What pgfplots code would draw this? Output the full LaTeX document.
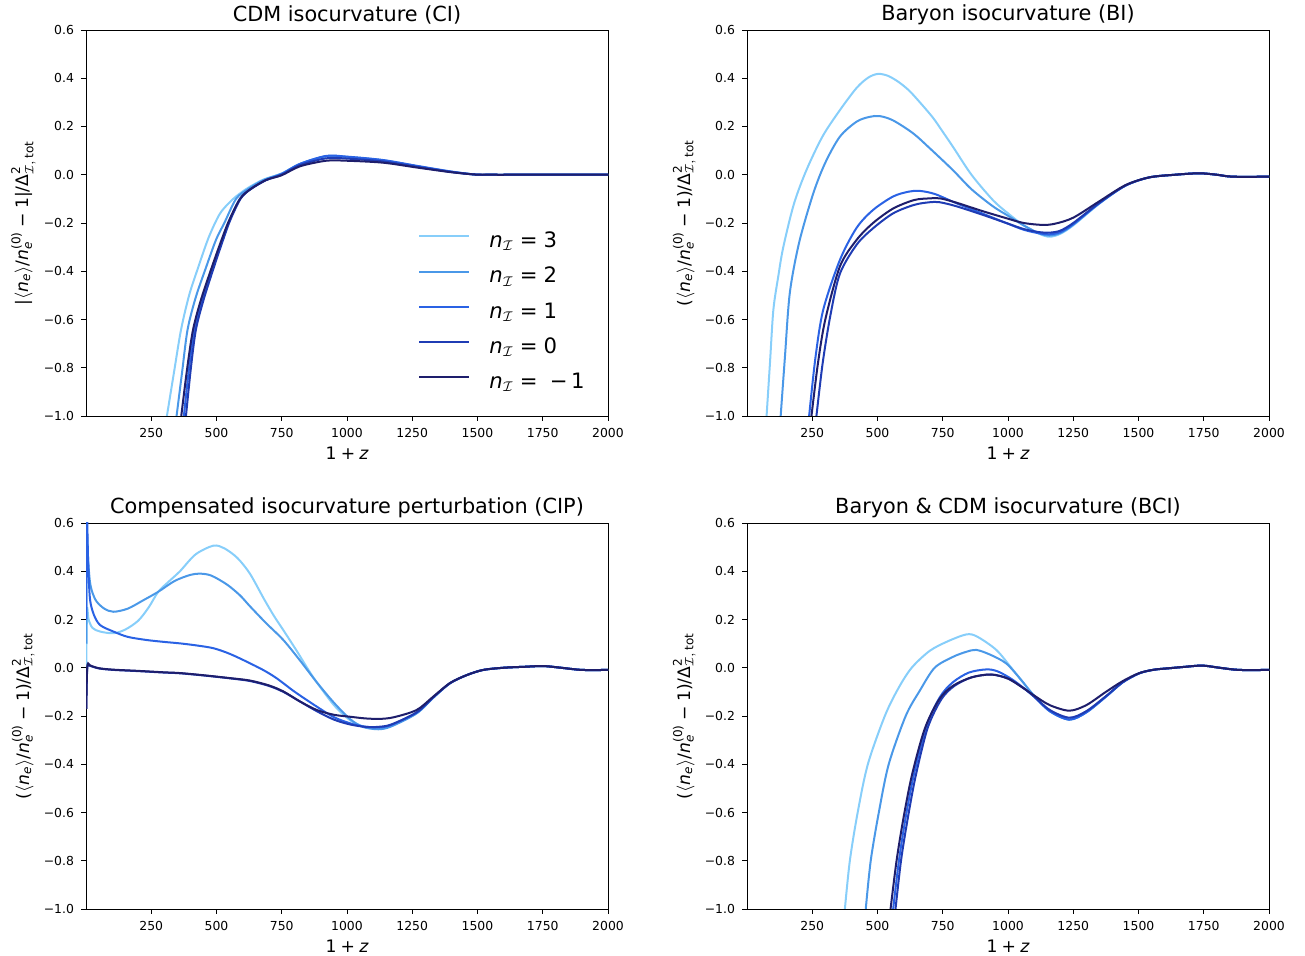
\documentclass[border=0pt]{standalone}
\usepackage{amsmath}
\usepackage{fontspec}
\setmainfont{DejaVu Sans}
\usepackage{pgfplots}
\pgfplotsset{compat=1.18}
\newcommand{\T}[1]{\text{#1}}
\definecolor{cA}{HTML}{87CEFA}
\definecolor{cB}{HTML}{4A98E8}
\definecolor{cC}{HTML}{2A62E4}
\definecolor{cD}{HTML}{1F3CB4}
\definecolor{cE}{HTML}{1E1E6C}
\pgfplotsset{
  panel/.style={
    width=261pt, height=193pt, scale only axis, anchor=south west,
    xmin=0, xmax=2000, ymin=-1, ymax=0.6,
    xtick={250,500,750,1000,1250,1500,1750,2000},
    xticklabels={250,500,750,1000,1250,1500,1750,2000},
    ytick={-1,-0.8,-0.6,-0.4,-0.2,0,0.2,0.4,0.6},
    yticklabels={−1.0,−0.8,−0.6,−0.4,−0.2,0.0,0.2,0.4,0.6},
    tick align=outside, tick pos=left, major tick length=2.5pt,
    tick style={line width=0.45pt, black},
    axis line style={line width=0.45pt},
    ticklabel style={font=\fontsize{6.2}{7}\selectfont},
    every axis title/.style={at={(axis description cs:0.5,1.0389)}, anchor=center, font=\fontsize{10.4}{12}\selectfont},
    every axis x label/.style={at={(axis description cs:0.5,-0.0959)}, anchor=center, font=\fontsize{8.6}{10}\selectfont},
    every axis y label/.style={at={(axis description cs:-0.12,0.5)}, rotate=90, anchor=center, font=\fontsize{8.6}{10}\selectfont},
    xlabel={$\T{1}\mathbin{\T{+}}\mathit{z}$},
    ylabel={$\T{(}\langle \mathit{n}_{\mathit{e}}\rangle\T{/}\mathit{n}_{\mathit{e}}^{\T{(0)}}\mathbin{\T{−}}\T{1)/Δ}^{\T{2}}_{\mathcal{I},\,\T{tot}}$},
    every axis plot/.append style={line width=1pt, smooth, tension=0.5},
  }
}
\begin{document}
\begin{tikzpicture}
\useasboundingbox (0,0) rectangle (652.5pt,478pt);
% ---------------- CI ----------------
\begin{axis}[panel, at={(43pt,270pt)}, title={CDM isocurvature (CI)},
  ylabel={$\T{|}\langle \mathit{n}_{\mathit{e}}\rangle\T{/}\mathit{n}_{\mathit{e}}^{\T{(0)}}\mathbin{\T{−}}\T{1|/Δ}^{\T{2}}_{\mathcal{I},\,\T{tot}}$},
  legend cell align=left,
  legend image code/.code={\draw[#1] (0pt,2.9pt) -- (25pt,2.9pt);},
  legend style={at={(axis description cs:0.636,0.268)}, anchor=west, draw=none, fill=none,
    font=\fontsize{10.6}{12}\selectfont, row sep=7.1pt, inner sep=0pt,
    nodes={inner sep=0pt, text height=8pt, text depth=2.5pt},
    /tikz/every odd column/.append style={column sep=9.5pt}}]
\addplot[cA] coordinates {(310,-1.00) (337,-0.82) (364,-0.643) (395,-0.50) (428,-0.39) (470,-0.26) (511,-0.165) (545,-0.12) (575,-0.09) (620,-0.055) (680,-0.02) (750,0.005) (820,0.045) (920,0.075) (1000,0.072) (1138,0.058) (1267,0.035) (1395,0.013) (1490,0.001) (1550,0) (1700,0) (2000,0)};
\addlegendentry{$\mathit{n}_{\mathcal{I}}\mathrel{\T{=}}\T{3}$}
\addplot[cB] coordinates {(347,-1.00) (368,-0.82) (389,-0.643) (420,-0.51) (458,-0.39) (498,-0.27) (530,-0.20) (575,-0.10) (620,-0.06) (680,-0.022) (750,0.005) (820,0.045) (920,0.077) (1000,0.074) (1138,0.06) (1267,0.036) (1395,0.013) (1490,0.001) (1550,0) (1700,0) (2000,0)};
\addlegendentry{$\mathit{n}_{\mathcal{I}}\mathrel{\T{=}}\T{2}$}
\addplot[cC] coordinates {(375,-1.00) (395,-0.80) (415,-0.643) (445,-0.52) (485,-0.39) (520,-0.28) (550,-0.19) (590,-0.10) (630,-0.06) (690,-0.022) (750,0.003) (820,0.045) (920,0.078) (1000,0.075) (1138,0.061) (1267,0.037) (1395,0.014) (1490,0.001) (1550,0) (1700,0) (2000,0)};
\addlegendentry{$\mathit{n}_{\mathcal{I}}\mathrel{\T{=}}\T{1}$}
\addplot[cD] coordinates {(383,-1.00) (402,-0.80) (421,-0.643) (450,-0.52) (488,-0.39) (522,-0.28) (552,-0.19) (592,-0.10) (630,-0.06) (690,-0.022) (750,0.0) (820,0.04) (920,0.068) (1000,0.067) (1138,0.055) (1267,0.033) (1395,0.012) (1490,0.001) (1550,0) (1700,0) (2000,0)};
\addlegendentry{$\mathit{n}_{\mathcal{I}}\mathrel{\T{=}}\T{0}$}
\addplot[cE] coordinates {(365,-1.00) (388,-0.80) (410,-0.643) (440,-0.52) (480,-0.39) (516,-0.28) (548,-0.19) (590,-0.10) (630,-0.06) (690,-0.022) (750,-0.002) (820,0.035) (920,0.058) (1000,0.058) (1138,0.05) (1267,0.03) (1395,0.011) (1490,0.001) (1550,0) (1700,0) (2000,0)};
\addlegendentry{$\mathit{n}_{\mathcal{I}}\mathrel{\T{=}}\;\T{−}\,\T{1}$}
\end{axis}
% ---------------- BI ----------------
\begin{axis}[panel, at={(373.5pt,270pt)}, title={Baryon isocurvature (BI)}]
\addplot[cA] coordinates {(75,-1.0) (88,-0.78) (101,-0.56) (120,-0.42) (139,-0.30) (180,-0.12) (228,0.02) (290,0.16) (356,0.268) (420,0.36) (465,0.403) (502,0.418) (540,0.41) (580,0.385) (620,0.35) (660,0.303) (712,0.237) (750,0.178) (789,0.116) (860,0.0) (942,-0.105) (1000,-0.16) (1060,-0.21) (1120,-0.245) (1159,-0.257) (1200,-0.245) (1250,-0.21) (1350,-0.12) (1450,-0.045) (1541,-0.011) (1640,0.0) (1732,0.006) (1800,0.0) (1860,-0.008) (2000,-0.008)};
\addplot[cB] coordinates {(129,-1.0) (145,-0.76) (164,-0.49) (200,-0.28) (254,-0.077) (300,0.05) (356,0.158) (420,0.22) (470,0.24) (509,0.243) (560,0.225) (636,0.172) (700,0.11) (788,0.02) (860,-0.06) (941,-0.13) (1000,-0.17) (1060,-0.21) (1120,-0.243) (1159,-0.252) (1200,-0.242) (1250,-0.207) (1350,-0.118) (1450,-0.045) (1541,-0.011) (1640,0.0) (1732,0.006) (1800,0.0) (1860,-0.008) (2000,-0.008)};
\addplot[cC] coordinates {(238,-1.0) (262,-0.76) (292,-0.56) (356,-0.353) (420,-0.22) (483,-0.146) (560,-0.09) (620,-0.07) (662,-0.067) (720,-0.08) (802,-0.118) (900,-0.16) (993,-0.2) (1060,-0.228) (1120,-0.243) (1159,-0.247) (1200,-0.238) (1250,-0.205) (1350,-0.118) (1450,-0.045) (1541,-0.011) (1640,0.0) (1732,0.006) (1800,0.0) (1860,-0.008) (2000,-0.008)};
\addplot[cD] coordinates {(266,-1.0) (290,-0.78) (320,-0.58) (356,-0.41) (420,-0.29) (483,-0.222) (560,-0.16) (640,-0.125) (700,-0.114) (738,-0.114) (800,-0.13) (900,-0.165) (993,-0.2) (1060,-0.225) (1120,-0.238) (1159,-0.24) (1200,-0.232) (1250,-0.2) (1350,-0.116) (1450,-0.045) (1541,-0.011) (1640,0.0) (1732,0.006) (1800,0.0) (1860,-0.008) (2000,-0.008)};
\addplot[cE] coordinates {(247,-1.0) (272,-0.78) (300,-0.60) (356,-0.38) (420,-0.27) (483,-0.2) (560,-0.14) (640,-0.105) (700,-0.098) (740,-0.098) (800,-0.115) (900,-0.15) (993,-0.18) (1060,-0.2) (1132,-0.208) (1180,-0.203) (1250,-0.178) (1350,-0.11) (1450,-0.043) (1541,-0.011) (1640,0.0) (1732,0.006) (1800,0.0) (1860,-0.008) (2000,-0.008)};
\end{axis}
% ---------------- CIP ----------------
\begin{axis}[panel, at={(43pt,23.5pt)}, title={Compensated isocurvature perturbation (CIP)}]
\addplot[cA] coordinates {(1,0.0) (4,0.24) (10,0.2) (25,0.165) (54,0.15) (105,0.143) (150,0.158) (200,0.195) (240,0.25) (277,0.315) (320,0.36) (360,0.40) (420,0.47) (488,0.506) (530,0.495) (580,0.455) (628,0.39) (682,0.285) (720,0.215) (756,0.156) (805,0.074) (850,-0.005) (884,-0.06) (950,-0.155) (1011,-0.217) (1060,-0.242) (1114,-0.252) (1170,-0.24) (1267,-0.189) (1330,-0.125) (1395,-0.064) (1460,-0.03) (1522,-0.009) (1600,0.0) (1680,0.004) (1752,0.007) (1820,0.0) (1900,-0.009) (2000,-0.009)};
\addplot[cB] coordinates {(1,0.1) (3,0.55) (8,0.45) (15,0.357) (25,0.31) (41,0.274) (70,0.245) (105,0.232) (160,0.245) (220,0.28) (277,0.315) (340,0.36) (400,0.385) (437,0.39) (480,0.382) (540,0.345) (590,0.30) (628,0.255) (690,0.185) (756,0.115) (820,0.03) (884,-0.06) (950,-0.145) (1011,-0.212) (1060,-0.245) (1120,-0.255) (1170,-0.243) (1267,-0.189) (1330,-0.125) (1395,-0.064) (1460,-0.03) (1522,-0.009) (1600,0.0) (1680,0.004) (1752,0.007) (1820,0.0) (1900,-0.009) (2000,-0.009)};
\addplot[cC] coordinates {(1,0.2) (3,0.65) (8,0.45) (15,0.288) (30,0.22) (54,0.177) (105,0.15) (160,0.128) (232,0.115) (300,0.107) (360,0.101) (420,0.093) (488,0.081) (550,0.058) (616,0.025) (680,-0.01) (731,-0.044) (800,-0.1) (884,-0.161) (950,-0.205) (1011,-0.23) (1060,-0.243) (1120,-0.247) (1170,-0.237) (1267,-0.185) (1330,-0.123) (1395,-0.064) (1460,-0.03) (1522,-0.009) (1600,0.0) (1680,0.004) (1752,0.007) (1820,0.0) (1900,-0.009) (2000,-0.009)};
\addplot[cD] coordinates {(1,-0.17) (4,-0.02) (8,0.012) (15,0.008) (50,-0.003) (105,-0.009) (200,-0.014) (300,-0.02) (360,-0.023) (450,-0.032) (552,-0.044) (628,-0.055) (700,-0.075) (756,-0.1) (820,-0.14) (884,-0.18) (950,-0.215) (1011,-0.235) (1070,-0.245) (1120,-0.245) (1170,-0.235) (1267,-0.185) (1330,-0.123) (1395,-0.064) (1460,-0.03) (1522,-0.009) (1600,0.0) (1680,0.004) (1752,0.007) (1820,0.0) (1900,-0.009) (2000,-0.009)};
\addplot[cE] coordinates {(1,-0.17) (4,-0.01) (8,0.018) (15,0.01) (50,-0.002) (105,-0.008) (200,-0.013) (300,-0.019) (360,-0.022) (450,-0.031) (552,-0.043) (628,-0.053) (700,-0.073) (756,-0.098) (820,-0.14) (884,-0.175) (950,-0.195) (1011,-0.203) (1070,-0.21) (1126,-0.212) (1180,-0.205) (1267,-0.175) (1330,-0.12) (1395,-0.063) (1460,-0.03) (1522,-0.009) (1600,0.0) (1680,0.004) (1752,0.007) (1820,0.0) (1900,-0.009) (2000,-0.009)};
\end{axis}
% ---------------- BCI ----------------
\begin{axis}[panel, at={(373.5pt,23.5pt)}, title={Baryon \& CDM isocurvature (BCI)}]
\addplot[cA] coordinates {(375,-1.0) (394,-0.8) (424,-0.6) (463,-0.4) (528,-0.2) (580,-0.085) (631,0.0) (700,0.07) (770,0.11) (840,0.138) (880,0.13) (955,0.074) (1020,-0.01) (1095,-0.11) (1160,-0.18) (1235,-0.215) (1300,-0.185) (1375,-0.12) (1440,-0.06) (1503,-0.023) (1560,-0.008) (1618,-0.002) (1680,0.004) (1745,0.009) (1810,0.0) (1885,-0.009) (2000,-0.009)};
\addplot[cB] coordinates {(455,-1.0) (474,-0.8) (505,-0.6) (543,-0.4) (608,-0.2) (662,-0.095) (719,0.0) (789,0.045) (840,0.066) (878,0.074) (930,0.055) (993,0.018) (1050,-0.05) (1095,-0.11) (1160,-0.18) (1235,-0.215) (1300,-0.185) (1375,-0.12) (1440,-0.06) (1503,-0.023) (1560,-0.008) (1618,-0.002) (1680,0.004) (1745,0.009) (1810,0.0) (1885,-0.009) (2000,-0.009)};
\addplot[cC] coordinates {(560,-1.0) (582,-0.8) (608,-0.62) (640,-0.44) (688,-0.24) (740,-0.12) (789,-0.06) (850,-0.02) (917,-0.007) (960,-0.015) (1018,-0.05) (1095,-0.115) (1160,-0.18) (1235,-0.215) (1300,-0.185) (1375,-0.12) (1440,-0.06) (1503,-0.023) (1560,-0.008) (1618,-0.002) (1680,0.004) (1745,0.009) (1810,0.0) (1885,-0.009) (2000,-0.009)};
\addplot[cD] coordinates {(569,-1.0) (590,-0.8) (615,-0.63) (646,-0.45) (692,-0.25) (745,-0.13) (795,-0.075) (860,-0.04) (935,-0.028) (1000,-0.045) (1060,-0.085) (1095,-0.115) (1160,-0.175) (1235,-0.207) (1300,-0.18) (1375,-0.118) (1440,-0.06) (1503,-0.023) (1560,-0.008) (1618,-0.002) (1680,0.004) (1745,0.009) (1810,0.0) (1885,-0.009) (2000,-0.009)};
\addplot[cE] coordinates {(550,-1.0) (573,-0.8) (600,-0.62) (633,-0.44) (682,-0.25) (737,-0.13) (789,-0.075) (860,-0.04) (935,-0.028) (1000,-0.045) (1060,-0.085) (1100,-0.115) (1160,-0.155) (1235,-0.178) (1300,-0.155) (1375,-0.1) (1440,-0.055) (1503,-0.022) (1560,-0.008) (1618,-0.002) (1680,0.004) (1745,0.009) (1810,0.0) (1885,-0.009) (2000,-0.009)};
\end{axis}
\end{tikzpicture}
\end{document}
